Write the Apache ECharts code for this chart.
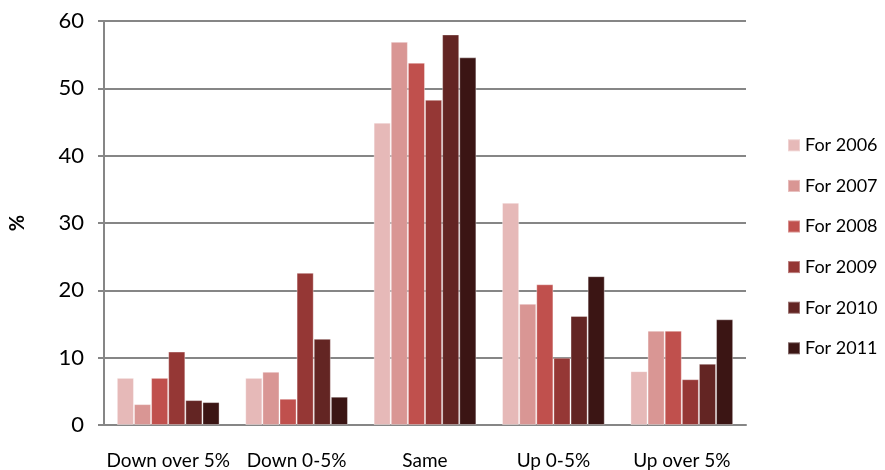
<!DOCTYPE html>
<html>
<head>
<meta charset="utf-8">
<script src="https://cdn.jsdelivr.net/npm/echarts@6/dist/echarts.min.js"></script>
<style>
html,body{margin:0;padding:0;background:#fff;}
#chart{width:885px;height:470px;}
</style>
</head>
<body>
<div id="chart"></div>
<script>
const categories = ["Down over 5%", "Down 0-5%", "Same", "Up 0-5%", "Up over 5%"];
const seriesNames = ["For 2006", "For 2007", "For 2008", "For 2009", "For 2010", "For 2011"];
const v2006 = [7.0, 7.0, 44.9, 33.0, 8.0];
const v2007 = [3.1, 7.9, 56.9, 18.0, 14.0];
const v2008 = [7.0, 3.9, 53.8, 20.9, 14.0];
const v2009 = [10.9, 22.6, 48.3, 10.0, 6.8];
const v2010 = [3.7, 12.8, 58.0, 16.2, 9.1];
const v2011 = [3.4, 4.2, 54.6, 22.1, 15.7];
const yTicks = [0, 10, 20, 30, 40, 50, 60];

const colors = ["#e6b9b8", "#d99694", "#c0504d", "#953735", "#632523", "#3b1514"];
const allValues = [v2006, v2007, v2008, v2009, v2010, v2011];

const chart = echarts.init(document.getElementById('chart'));
chart.setOption({
  animation: false,
  color: colors,
  textStyle: { fontFamily: 'Lato' },
  grid: { left: 101, right: 139, top: 21, bottom: 44, containLabel: false },
  legend: {
    orient: 'vertical',
    left: 787,
    top: 135,
    padding: 0,
    itemWidth: 12,
    itemHeight: 12,
    itemGap: 20,
    icon: 'rect',
    textStyle: { fontFamily: 'Lato', fontSize: 18, color: '#000', lineHeight: 20.6 },
    data: seriesNames
  },
  xAxis: {
    type: 'category',
    data: categories,
    axisLine: { lineStyle: { color: '#868686', width: 2 } },
    axisTick: { show: false },
    axisLabel: { fontFamily: 'Lato', fontSize: 19, color: '#000', margin: 26, interval: 0 }
  },
  yAxis: {
    type: 'value',
    min: yTicks[0],
    max: yTicks[yTicks.length - 1],
    interval: 10,
    name: '%',
    nameLocation: 'middle',
    nameRotate: 90,
    nameGap: 76,
    nameTextStyle: { fontFamily: 'Lato', fontSize: 20, fontWeight: 'bold', color: '#000' },
    axisLine: { show: true, lineStyle: { color: '#868686', width: 2 } },
    axisTick: { show: true, length: 6, lineStyle: { color: '#868686', width: 2 } },
    axisLabel: { fontFamily: 'Lato', fontSize: 22, color: '#000', margin: 20 },
    splitLine: { lineStyle: { color: '#868686', width: 2 } }
  },
  series: seriesNames.map((n, i) => ({
    name: n,
    type: 'bar',
    data: allValues[i],
    barGap: '0%',
    barCategoryGap: '20%',
    itemStyle: { borderColor: 'rgba(255,255,255,0.35)', borderWidth: 1 }
  }))
});
</script>
</body>
</html>
